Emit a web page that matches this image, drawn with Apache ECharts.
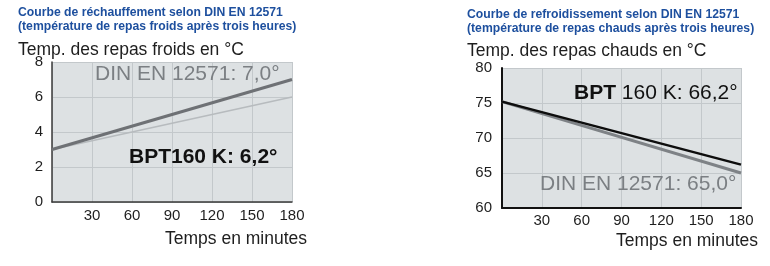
<!DOCTYPE html>
<html>
<head>
<meta charset="utf-8">
<script src="https://cdn.jsdelivr.net/npm/echarts@6/dist/echarts.min.js"></script>
<style>
html,body{margin:0;padding:0;background:#fff;}
#c{width:770px;height:266px;}
</style>
</head>
<body>
<div id="c"></div>
<script>
// ---- data ----
const timeTicks = [0, 30, 60, 90, 120, 150, 180];
const warmTime = [0, 180];
const warmDIN = [3.0, 7.0];     // DIN EN 12571 (cold meals), thick grey
const warmBPT = [3.0, 6.0];     // BPT160 K, thin light grey
const coolTime = [0, 180];
const coolDIN = [75.2, 65.0];   // DIN EN 12571 (hot meals), grey
const coolBPT = [75.2, 66.2];   // BPT160 K, black

const leftTitle1 = 'Courbe de réchauffement selon DIN EN 12571';
const leftTitle2 = '(température de repas froids après trois heures)';
const rightTitle1 = 'Courbe de refroidissement selon DIN EN 12571';
const rightTitle2 = '(température de repas chauds après trois heures)';
const leftYName = 'Temp. des repas froids en °C';
const rightYName = 'Temp. des repas chauds en °C';
const xName = 'Temps en minutes';
const leftDinLabel = 'DIN EN 12571: 7,0°';
const leftBptLabel = 'BPT160 K: 6,2°';
const rightDinLabel = 'DIN EN 12571: 65,0°';
const rightBptBold = 'BPT';
const rightBptRest = ' 160 K: 66,2°';

const pairs = (xs, ys) => xs.map((x, i) => [x, ys[i]]);

const FONT = '"Liberation Sans", Arial, Helvetica, sans-serif';
const BLUE = '#1d4f9e';
const BG = '#dde1e3';
const GRID = '#c3c8cb';
const TXT = '#1e1e1e';
const GREYTXT = '#7b7f83';

function xAxisCfg(gi, axisColor, axisW, margin) {
  return {
    type: 'value', gridIndex: gi, min: 0, max: 180, interval: 30,
    axisLine: {show: true, onZero: false, lineStyle: {color: axisColor, width: axisW}},
    axisTick: {show: false},
    splitLine: {show: true, lineStyle: {color: GRID, width: 1}},
    axisLabel: {show: true, showMinLabel: false, color: TXT, fontSize: 15, fontFamily: FONT, margin: margin}
  };
}
function yAxisCfg(gi, min, max, interval, axisColor, axisW, margin) {
  return {
    type: 'value', gridIndex: gi, min: min, max: max, interval: interval,
    axisLine: {show: true, onZero: false, lineStyle: {color: axisColor, width: axisW}},
    axisTick: {show: false},
    splitLine: {show: true, lineStyle: {color: GRID, width: 1}},
    axisLabel: {show: true, color: TXT, fontSize: 15, fontFamily: FONT, margin: margin}
  };
}

const chart = echarts.init(document.getElementById('c'), null, {renderer: 'canvas'});
chart.setOption({
  animation: false,
  backgroundColor: '#ffffff',
  grid: [
    {left: 52, top: 62, width: 240, height: 140, show: true, backgroundColor: BG, borderWidth: 0},
    {left: 502, top: 68, width: 239, height: 140, show: true, backgroundColor: BG, borderWidth: 0}
  ],
  xAxis: [
    xAxisCfg(0, '#3a3a3a', 1.5, 6),
    xAxisCfg(1, '#111111', 2, 5)
  ],
  yAxis: [
    yAxisCfg(0, 0, 8, 2, '#3a3a3a', 1.5, 9),
    yAxisCfg(1, 60, 80, 5, '#111111', 2, 10)
  ],
  series: [
    {type: 'line', xAxisIndex: 0, yAxisIndex: 0, data: pairs(warmTime, warmBPT), showSymbol: false,
     lineStyle: {color: '#b7bbbe', width: 1.3}, z: 3},
    {type: 'line', xAxisIndex: 0, yAxisIndex: 0, data: pairs(warmTime, warmDIN), showSymbol: false,
     lineStyle: {color: '#6e7175', width: 3}, z: 4},
    {type: 'line', xAxisIndex: 1, yAxisIndex: 1, data: pairs(coolTime, coolDIN), showSymbol: false,
     lineStyle: {color: '#7e8286', width: 3}, z: 3},
    {type: 'line', xAxisIndex: 1, yAxisIndex: 1, data: pairs(coolTime, coolBPT), showSymbol: false,
     lineStyle: {color: '#0d0d0d', width: 2.5}, z: 4}
  ],
  graphic: [
    {type: 'text', left: 18, top: 7, style: {text: leftTitle1, font: 'bold 12.2px ' + FONT, fill: BLUE}},
    {type: 'text', left: 18, top: 21, style: {text: leftTitle2, font: 'bold 12.2px ' + FONT, fill: BLUE}},
    {type: 'text', left: 467, top: 8.5, style: {text: rightTitle1, font: 'bold 12.2px ' + FONT, fill: BLUE}},
    {type: 'text', left: 467, top: 22.5, style: {text: rightTitle2, font: 'bold 12.2px ' + FONT, fill: BLUE}},
    {type: 'text', left: 18, top: 41, style: {text: leftYName, font: '17.5px ' + FONT, fill: TXT}},
    {type: 'text', left: 467, top: 42, style: {text: rightYName, font: '17.5px ' + FONT, fill: TXT}},
    {type: 'text', left: 165, top: 230, style: {text: xName, font: '17.5px ' + FONT, fill: TXT}},
    {type: 'text', left: 616, top: 232, style: {text: xName, font: '17.5px ' + FONT, fill: TXT}},
    {type: 'text', left: 95, top: 64, z: 10, style: {text: leftDinLabel, font: '21px ' + FONT, fill: GREYTXT}},
    {type: 'text', left: 129, top: 147, z: 10, style: {text: leftBptLabel, font: 'bold 21px ' + FONT, fill: '#111'}},
    {type: 'text', left: 540, top: 174, z: 10, style: {text: rightDinLabel, font: '21px ' + FONT, fill: GREYTXT}},
    {type: 'text', left: 574, top: 83, z: 10, style: {
      text: '{b|' + rightBptBold + '}{r|' + rightBptRest + '}',
      rich: {
        b: {font: 'bold 21px ' + FONT, fill: '#111'},
        r: {font: '21px ' + FONT, fill: '#111'}
      }
    }}
  ]
});
</script>
</body>
</html>
